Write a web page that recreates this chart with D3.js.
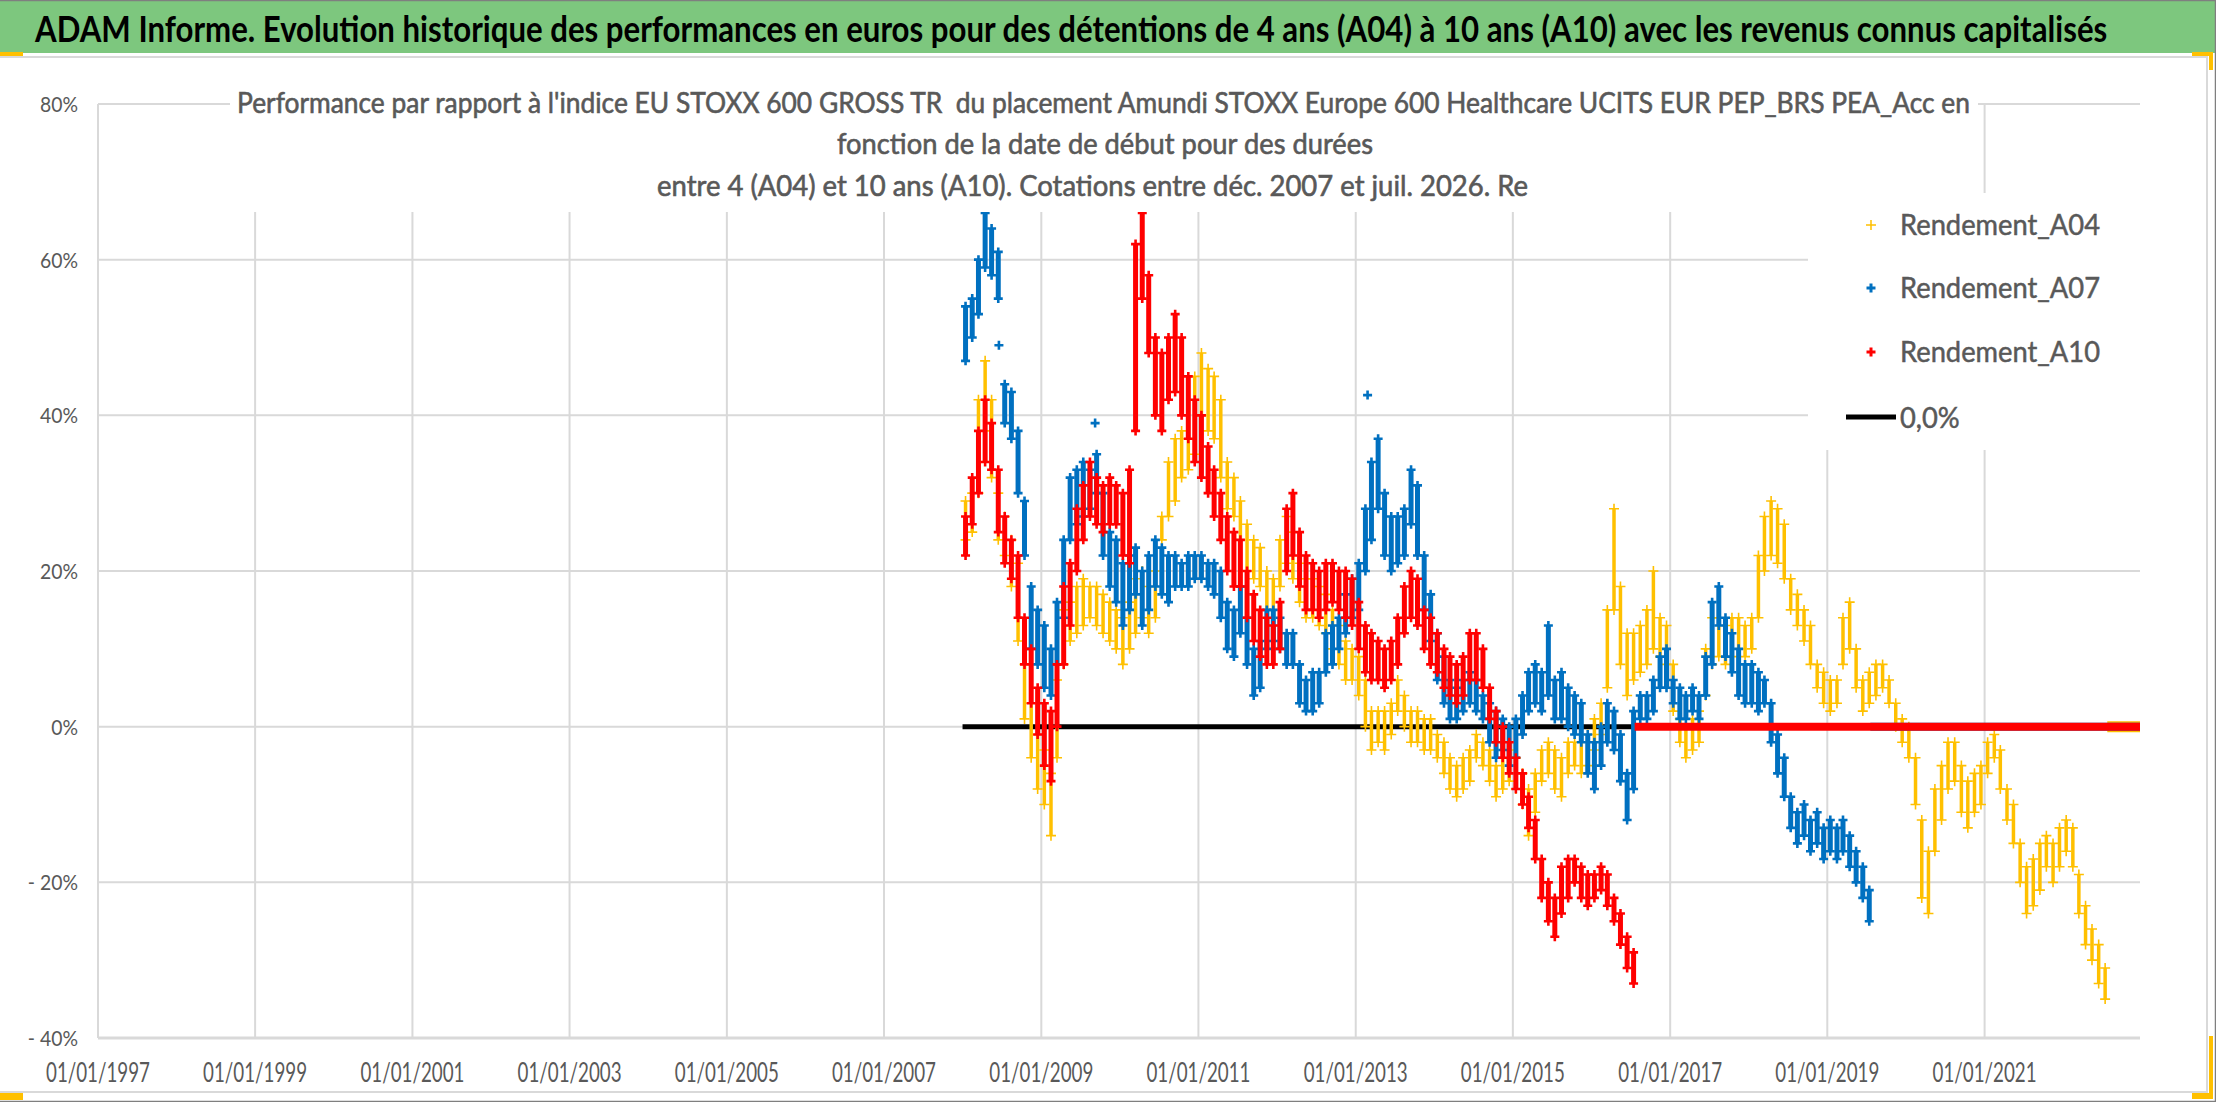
<!DOCTYPE html>
<html>
<head>
<meta charset="utf-8">
<script src="https://cdnjs.cloudflare.com/ajax/libs/d3/7.8.5/d3.min.js"></script>
<style>
  body { margin: 0; background: #fff; }
  svg { display: block; font-family: Lato, "Open Sans", sans-serif; }
  text { white-space: pre; }
</style>
</head>
<body>
<svg id="chart" width="2216" height="1102"></svg>
<script>
// ---- texts
var title = "ADAM Informe. Evolution historique des performances en euros pour des détentions de 4 ans (A04) à 10 ans (A10) avec les revenus connus capitalisés";
var subtitleLines = [
  "Performance par rapport à l'indice EU STOXX 600 GROSS TR  du placement Amundi STOXX Europe 600 Healthcare UCITS EUR PEP_BRS PEA_Acc en",
  "fonction de la date de début pour des durées",
  "entre 4 (A04) et 10 ans (A10). Cotations entre déc. 2007 et juil. 2026. Re"
];
var seriesNames = ["Rendement_A04", "Rendement_A07", "Rendement_A10"];
var zeroName = "0,0%";
var xTickLabels = ["01/01/1997", "01/01/1999", "01/01/2001", "01/01/2003", "01/01/2005", "01/01/2007",
  "01/01/2009", "01/01/2011", "01/01/2013", "01/01/2015", "01/01/2017", "01/01/2019", "01/01/2021"];
var yTickValues = [-40, -20, 0, 20, 40, 60, 80];
var xAxisRange = ["1997-01-01", "2022-12-24"];

// ---- data : monthly [low, high] of the performance (%), first month = Jan 2008
var firstMonth = "2008-01-15";
var A04 = [
  [24,29],[25,30],[30,42],[38,47],[32,42],[24,30],[22,27],[18,24],[11,21],[1,8],[-4,3],[-8,-1],
  [-10,-3],[-14,-6],[-4,6],[8,15],[11,16],[12,18],[13,19],[14,18],[13,18],[12,17],[11,16],[10,15],
  [8,14],[10,16],[12,19],[14,20],[12,18],[14,20],[24,27],[27,34],[29,37],[32,38],[33,37],[35,45],
  [40,48],[38,46],[37,45],[32,42],[28,34],[27,32],[24,29],[20,26],[19,24],[18,23],[14,20],[13,19],
  [18,24],[21,27],[19,25],[16,21],[14,19],[14,19],[13,18],[12,17],[10,15],[8,13],[6,11],[6,10],
  [4,9],[0,6],[-3,2],[-2,2],[-3,2],[-1,3],[2,6],[0,4],[-2,2],[-2,2],[-3,1],[-3,1],
  [-4,-1],[-6,-2],[-8,-4],[-9,-5],[-8,-4],[-7,-3],[-4,-1],[-5,-2],[-7,-3],[-9,-5],[-8,-4],[-7,-3],
  [-8,-4],[-10,-6],[-14,-8],[-11,-6],[-7,-3],[-6,-2],[-8,-3],[-9,-4],[-6,-2],[-5,-2],[-6,-2],[-5,-1],
  [-3,1],[-1,3],[5,15],[15,28],[8,18],[4,12],[6,12],[7,13],[8,15],[10,20],[9,14],[8,13],
  [2,8],[-2,1],[-4,0],[-3,1],[-2,2],[4,10],[8,14],[9,14],[8,13],[9,14],[10,14],[9,13],
  [10,14],[14,22],[20,27],[22,29],[21,28],[19,26],[15,19],[13,17],[11,15],[8,13],[5,8],[3,7],
  [2,6],[3,6],[8,14],[10,16],[5,10],[2,6],[3,7],[4,8],[5,8],[3,6],[0,3],[-2,1],
  [-4,0],[-10,-4],[-22,-12],[-24,-16],[-16,-8],[-12,-5],[-8,-2],[-7,-2],[-11,-5],[-13,-7],[-11,-6],[-10,-5],
  [-6,-2],[-4,-1],[-8,-3],[-12,-8],[-15,-10],[-20,-15],[-24,-18],[-23,-17],[-21,-15],[-18,-14],[-20,-15],[-18,-13],
  [-16,-12],[-18,-13],[-24,-19],[-28,-23],[-30,-26],[-33,-28],[-35,-31]
];
var A07 = [
  [47,54],[50,55],[53,60],[59,66],[58,64],[55,61],[39,44],[37,43],[30,38],[22,29],[10,18],[8,15],
  [5,13],[4,10],[8,16],[14,24],[24,32],[26,33],[27,34],[28,33],[30,35],[22,30],[18,25],[16,24],
  [13,21],[15,22],[17,23],[13,20],[15,22],[18,24],[17,23],[16,22],[18,22],[18,21],[18,22],[19,22],
  [19,22],[18,21],[17,21],[14,20],[10,16],[9,15],[12,18],[8,14],[4,10],[5,11],[10,15],[11,15],
  [10,14],[8,12],[8,12],[3,8],[2,6],[2,7],[3,7],[7,12],[8,13],[10,14],[12,17],[14,19],
  [15,21],[20,28],[24,34],[28,37],[22,30],[20,27],[21,27],[22,28],[26,33],[22,31],[15,22],[11,17],
  [6,12],[3,9],[1,6],[1,5],[2,6],[3,7],[2,6],[1,4],[-2,3],[-4,2],[-3,1],[-5,0],
  [-4,1],[-1,4],[2,7],[3,8],[2,7],[4,13],[1,6],[1,7],[0,5],[-1,4],[-2,3],[-6,-1],
  [-8,-2],[-5,0],[-2,3],[-3,2],[-7,-1],[-12,-6],[-8,2],[1,4],[1,4],[2,6],[5,9],[5,10],
  [3,6],[1,5],[1,4],[2,5],[1,4],[4,9],[8,16],[13,18],[9,14],[7,12],[4,10],[3,8],
  [3,8],[2,7],[3,6],[-2,3],[-6,-1],[-9,-4],[-13,-9],[-15,-11],[-14,-10],[-16,-12],[-15,-11],[-17,-13],
  [-16,-12],[-17,-13],[-16,-12],[-18,-14],[-20,-16],[-22,-18],[-25,-21]
];
var A10 = [
  [22,27],[26,32],[30,38],[34,42],[33,39],[25,33],[21,27],[19,24],[14,22],[8,14],[3,10],[-1,5],
  [-5,3],[-7,2],[0,8],[8,18],[13,21],[20,28],[24,31],[27,34],[26,32],[25,31],[26,32],[26,31],
  [22,30],[21,33],[38,62],[55,66],[48,58],[40,50],[38,48],[42,50],[43,53],[40,50],[37,45],[34,42],
  [32,40],[30,36],[27,33],[24,30],[20,27],[18,25],[18,24],[14,20],[11,17],[9,15],[8,14],[8,13],
  [10,16],[20,28],[22,30],[18,25],[15,22],[15,21],[14,20],[15,21],[16,21],[15,20],[14,20],[13,19],
  [10,16],[7,13],[6,12],[6,11],[5,10],[6,11],[8,14],[12,18],[14,20],[13,19],[10,15],[8,14],
  [7,12],[5,10],[4,9],[3,8],[4,9],[6,12],[6,12],[5,10],[1,5],[-2,2],[-4,0],[-6,-2],
  [-8,-4],[-10,-6],[-13,-9],[-17,-12],[-22,-17],[-25,-20],[-27,-22],[-24,-18],[-22,-17],[-20,-17],[-22,-18],[-23,-19],
  [-22,-19],[-21,-18],[-23,-19],[-25,-22],[-28,-24],[-31,-27],[-33,-29]
];
// isolated points [date, %]
var outliers04 = [];
var outliers07 = [["2008-06-18", 49], ["2009-09-08", 39], ["2013-02-25", 42.6]];
var outliers10 = [];
// after these dates the windows are incomplete and the sheet reports 0
var zeroFrom = ["2022-07-25", "2019-07-20", "2016-07-20"];
var zeroLine = [["2008-01-01", 0], ["2022-12-24", 0]];

var colors = ["#FFC000", "#0070C0", "#FF0000"];

// ---- drawing
var parse = d3.timeParse("%Y-%m-%d");
var parseTick = d3.timeParse("%d/%m/%Y");
var svg = d3.select("#chart");
var textGrey = "#595959";
var gridGrey = "#d9d9d9";

var x = d3.scaleTime().domain(xAxisRange.map(parse)).range([98, 2140]);
var y = d3.scaleLinear().domain([-40, 80]).range([1038, 104]);

// banner (title squeezed horizontally to the banner width)
svg.append("rect").attr("x", 0).attr("y", 0).attr("width", 2216).attr("height", 53).attr("fill", "#7dc77e");
var titleText = svg.append("text").attr("font-size", 36).attr("font-weight", "bold")
  .attr("fill", "#000").text(title);
var tw = titleText.node().getComputedTextLength();
titleText.attr("transform", "translate(35,42) scale(" + (2073 / tw) + ",1)");

// chart frame
svg.append("path").attr("d", "M0,57H2207V1092H0").attr("fill", "none").attr("stroke", gridGrey).attr("stroke-width", 2);

// gridlines
svg.append("g").selectAll("line").data(yTickValues).enter().append("line")
  .attr("x1", x.range()[0]).attr("x2", x.range()[1])
  .attr("y1", d => y(d)).attr("y2", d => y(d))
  .attr("stroke", gridGrey).attr("stroke-width", d => d === -40 ? 3 : 2);
svg.append("g").selectAll("line").data(xTickLabels).enter().append("line")
  .attr("x1", d => x(parseTick(d))).attr("x2", d => x(parseTick(d)))
  .attr("y1", y(80)).attr("y2", y(-40))
  .attr("stroke", gridGrey).attr("stroke-width", 2);

// y labels
var yLab = svg.append("g").selectAll("text").data(yTickValues).enter().append("text")
  .attr("x", 78).attr("y", d => y(d) + 8).attr("text-anchor", "end")
  .attr("font-size", 22).attr("fill", textGrey)
  .text(d => (d < 0 ? "- " + Math.abs(d) : d) + "%");
var ky = 38 / yLab.filter(d => d === 80).node().getComputedTextLength();
yLab.each(function () { d3.select(this).attr("textLength", this.getComputedTextLength() * ky).attr("lengthAdjust", "spacingAndGlyphs"); });

// x labels
svg.append("g").selectAll("text").data(xTickLabels).enter().append("text")
  .attr("x", d => x(parseTick(d))).attr("y", 1082).attr("text-anchor", "middle")
  .attr("font-size", 26).attr("fill", textGrey)
  .attr("textLength", 104).attr("lengthAdjust", "spacingAndGlyphs")
  .text(d => d);

// zero series
svg.append("line")
  .attr("x1", x(parse(zeroLine[0][0]))).attr("x2", x(parse(zeroLine[1][0])))
  .attr("y1", y(zeroLine[0][1])).attr("y2", y(zeroLine[1][1]))
  .attr("stroke", "#000").attr("stroke-width", 5);

var plus = r => "M" + (-r) + ",0H" + r + "M0," + (-r) + "V" + r;
var monthDate = i => d3.timeMonth.offset(parse(firstMonth), i);

// each month: a band from low to high, with a cross at both ends
function drawSeries(values, outliers, zeroStart, color, r, sw, bandW, tailW) {
  var g = svg.append("g").attr("stroke", color).attr("fill", "none");
  g.selectAll("line.range").data(values).enter().append("line")
    .attr("x1", (d, i) => x(monthDate(i))).attr("x2", (d, i) => x(monthDate(i)))
    .attr("y1", d => y(d[0])).attr("y2", d => y(d[1]))
    .attr("stroke-width", bandW);
  var pts = [];
  values.forEach((d, i) => { pts.push([monthDate(i), d[0]]); pts.push([monthDate(i), d[1]]); });
  outliers.forEach(d => pts.push([parse(d[0]), d[1]]));
  g.selectAll("path").data(pts).enter().append("path")
    .attr("d", plus(r)).attr("stroke-width", sw)
    .attr("transform", d => "translate(" + x(d[0]) + "," + y(d[1]) + ")");
  g.append("line")
    .attr("x1", x(parse(zeroStart))).attr("x2", x.range()[1])
    .attr("y1", y(0)).attr("y2", y(0)).attr("stroke-width", tailW);
}
drawSeries(A04, outliers04, zeroFrom[0], colors[0], 5, 1.6, 3.5, 11);
drawSeries(A07, outliers07, zeroFrom[1], colors[1], 4.5, 2.6, 5, 8);
drawSeries(A10, outliers10, zeroFrom[2], colors[2], 4.5, 2.6, 5, 8);

// subtitle box
svg.append("rect").attr("x", 230).attr("y", 59).attr("width", 1748).attr("height", 153).attr("fill", "#fff");
var subX = [237, 837, 657], subW = [1733, 536, 871], subY = [113, 154, 196];
svg.append("g").selectAll("text").data(subtitleLines).enter().append("text")
  .attr("x", (d, i) => subX[i]).attr("y", (d, i) => subY[i])
  .attr("font-size", 28).attr("fill", textGrey).attr("stroke", textGrey).attr("stroke-width", 0.6)
  .attr("textLength", (d, i) => subW[i]).attr("lengthAdjust", "spacingAndGlyphs")
  .text(d => d);

// legend
svg.append("rect").attr("x", 1808).attr("y", 193).attr("width", 332).attr("height", 257).attr("fill", "#fff");
var legRows = [225, 288, 352];
var legR = [5, 4.5, 4.5], legSW = [1.5, 3, 3];
var leg = svg.append("g");
seriesNames.forEach((n, i) => {
  leg.append("path").attr("d", plus(legR[i])).attr("stroke", colors[i]).attr("stroke-width", legSW[i])
    .attr("transform", "translate(1871," + legRows[i] + ")");
});
leg.append("line").attr("x1", 1846).attr("x2", 1896).attr("y1", 417).attr("y2", 417)
  .attr("stroke", "#000").attr("stroke-width", 5);
var legText = leg.selectAll("text").data(seriesNames.concat([zeroName])).enter().append("text")
  .attr("x", 1900).attr("y", (d, i) => [235, 298, 362, 428][i])
  .attr("font-size", 29).attr("fill", textGrey).attr("stroke", textGrey).attr("stroke-width", 0.5)
  .text(d => d);
var kl = 200 / legText.node().getComputedTextLength();
legText.each(function () { d3.select(this).attr("textLength", this.getComputedTextLength() * kl).attr("lengthAdjust", "spacingAndGlyphs"); });

// selection handles and screenshot border
var yellow = "#FFC000";
[[0, 52, 23, 4], [2192, 52, 21, 4], [2209, 52, 4, 18], [2209, 1036, 4, 63], [2192, 1093, 21, 6], [0, 1093, 23, 7]]
  .forEach(r => svg.append("rect").attr("x", r[0]).attr("y", r[1]).attr("width", r[2]).attr("height", r[3]).attr("fill", yellow));
svg.append("path").attr("d", "M0,0.5H2215.5V1101.5H0").attr("fill", "none").attr("stroke", "#7f7f7f").attr("stroke-width", 1.5);
</script>
</body>
</html>
